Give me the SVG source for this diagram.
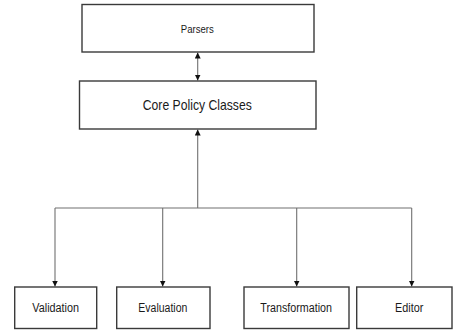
<svg xmlns="http://www.w3.org/2000/svg" width="453" height="330" viewBox="0 0 453 330">
  <style>
    .box { fill: #ffffff; stroke: #3a3a3a; stroke-width: 1.4; }
    .lbl { font-family: "Liberation Sans", Arial, sans-serif; fill: #1a1a1a; text-anchor: middle; }
    .wire { fill: none; stroke: #707070; stroke-width: 1.1; }
  </style>
  <defs>
    <marker id="head" viewBox="0 0 10 10" refX="10" refY="5" markerWidth="6" markerHeight="6" markerUnits="userSpaceOnUse" orient="auto-start-reverse">
      <path d="M0,0 L10,5 L0,10 z" fill="#111"/>
    </marker>
  </defs>
  <rect width="453" height="330" fill="#ffffff"/>

  <g id="connectors">
    <!-- Parsers <-> Core -->
    <line class="wire" x1="197.7" y1="52.5" x2="197.7" y2="80.5" marker-start="url(#head)" marker-end="url(#head)"/>
    <!-- bus up into Core -->
    <line class="wire" x1="197.7" y1="208" x2="197.7" y2="129.5" marker-end="url(#head)"/>
    <!-- horizontal bus -->
    <line class="wire" x1="55" y1="208" x2="411.7" y2="208"/>
    <!-- drops to components -->
    <line class="wire" x1="55" y1="208" x2="55" y2="286.5" marker-end="url(#head)"/>
    <line class="wire" x1="162.7" y1="208" x2="162.7" y2="286.5" marker-end="url(#head)"/>
    <line class="wire" x1="296.7" y1="208" x2="296.7" y2="286.5" marker-end="url(#head)"/>
    <line class="wire" x1="411.7" y1="208" x2="411.7" y2="286.5" marker-end="url(#head)"/>
  </g>

  <g id="parsers">
    <rect class="box" x="82" y="4.5" width="232" height="47.5"/>
    <text class="lbl" x="197.3" y="33" font-size="11" textLength="33" lengthAdjust="spacingAndGlyphs">Parsers</text>
  </g>

  <g id="core">
    <rect class="box" x="79.5" y="81" width="236.5" height="48"/>
    <text class="lbl" x="197.3" y="110" font-size="14.5" textLength="109" lengthAdjust="spacingAndGlyphs">Core Policy Classes</text>
  </g>

  <g id="validation">
    <rect class="box" x="14.7" y="287" width="82" height="41.5"/>
    <text class="lbl" x="55.7" y="312" font-size="12.5" textLength="46.7" lengthAdjust="spacingAndGlyphs">Validation</text>
  </g>

  <g id="evaluation">
    <rect class="box" x="116.7" y="287" width="93.3" height="41.5"/>
    <text class="lbl" x="162.8" y="312" font-size="12.5" textLength="49" lengthAdjust="spacingAndGlyphs">Evaluation</text>
  </g>

  <g id="transformation">
    <rect class="box" x="244" y="287" width="105" height="41.5"/>
    <text class="lbl" x="296.2" y="312" font-size="12.5" textLength="71.7" lengthAdjust="spacingAndGlyphs">Transformation</text>
  </g>

  <g id="editor">
    <rect class="box" x="356.7" y="287" width="95.3" height="41.5"/>
    <text class="lbl" x="409.2" y="312" font-size="12.5" textLength="28.3" lengthAdjust="spacingAndGlyphs">Editor</text>
  </g>
</svg>
